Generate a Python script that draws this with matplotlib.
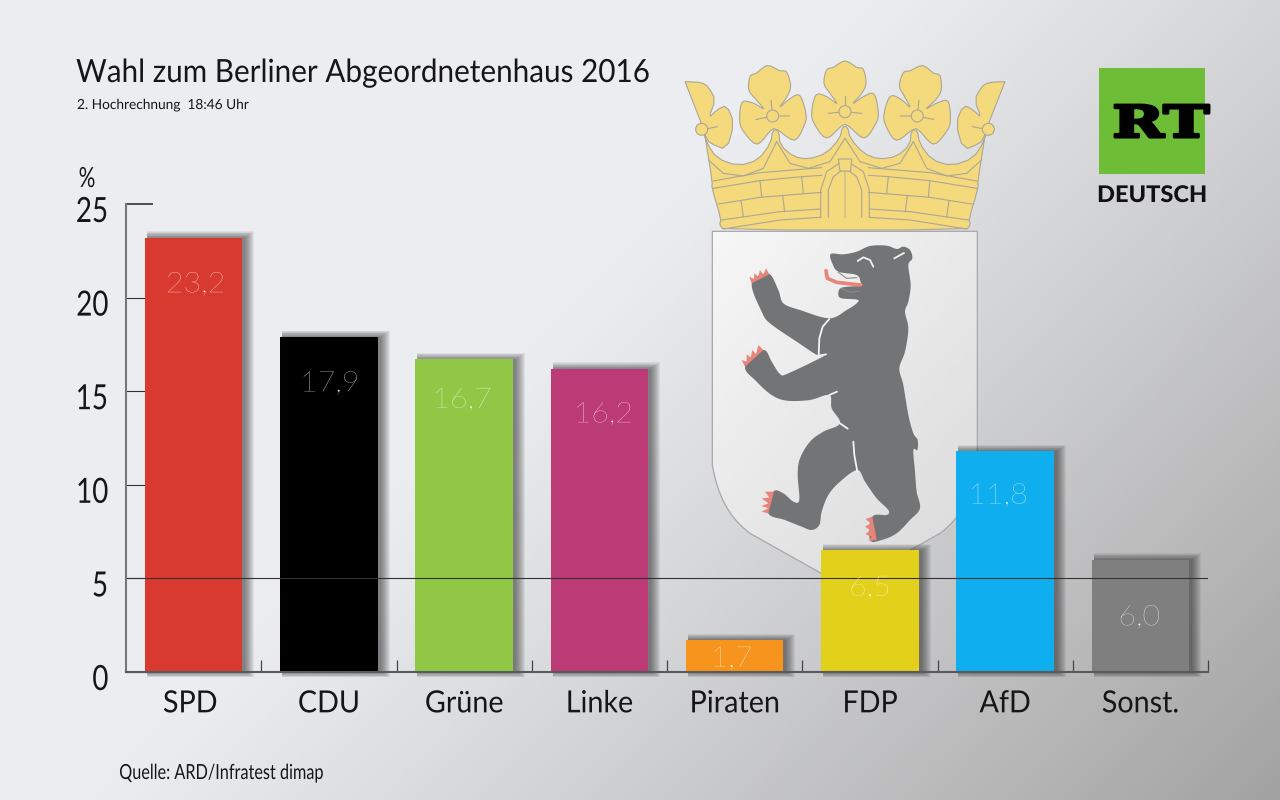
import numpy as np
import matplotlib
matplotlib.use("Agg")
import matplotlib.pyplot as plt
from matplotlib.patches import Rectangle, Polygon, Circle, PathPatch
from matplotlib.path import Path
from matplotlib.patheffects import AbstractPathEffect
from matplotlib.transforms import Affine2D, ScaledTranslation

# Daten
parteien = ["SPD", "CDU", "Grüne", "Linke", "Piraten", "FDP", "AfD", "Sonst."]
prozent = [23.2, 17.9, 16.7, 16.2, 1.7, 6.5, 11.8, 6.0]
prozent_text = ["23,2", "17,9", "16,7", "16,2", "1,7", "6,5", "11,8", "6,0"]
farben = ["#D93A2F", "#000000", "#90C845", "#BC3A75", "#F7941D", "#E2D01B", "#0FAEEF", "#7F7F7F"]
label_abstand = [47, 47, 41, 46, 19, 38, 45, 58]
label_seite = [2, 1, -2, 4, -3, 0, -7, -1]
y_ticks = [0, 5, 10, 15, 20, 25]

plt.rcParams["font.family"] = ["Lato", "DejaVu Sans"]
TEXT = "#161616"


class Stauchen(AbstractPathEffect):
    # Schrift horizontal stauchen, Original ist eine schmale Proxima Nova
    def __init__(self, sx, anker=0.5, fett=0):
        super().__init__()
        self.sx = sx
        self.anker = anker
        self.fett = fett

    def draw_path(self, renderer, gc, tpath, affine, rgbFace=None):
        ext = tpath.get_extents()
        cx = ext.x0 + self.anker * ext.width
        extra = Affine2D().translate(-cx, 0).scale(self.sx, 1).translate(cx, 0)
        if self.fett:
            gc0 = renderer.new_gc()
            gc0.copy_properties(gc)
            gc0.set_linewidth(self.fett)
            gc0.set_foreground(rgbFace)
            renderer.draw_path(gc0, tpath, extra + affine, rgbFace)
            gc0.restore()
        else:
            renderer.draw_path(gc, tpath, extra + affine, rgbFace)


def glatt(punkte, n=2):
    p = np.array(punkte, dtype=float)
    for _ in range(n):
        q = np.roll(p, -1, axis=0)
        p = np.column_stack([0.75 * p + 0.25 * q, 0.25 * p + 0.75 * q]).reshape(-1, 2)
    return p


def kurve(punkte, n=6):
    # Catmull-Rom, geht durch alle Punkte und schrumpft nicht wie glatt()
    p = np.array(punkte, dtype=float)
    aus = []
    for i in range(len(p)):
        p0, p1, p2, p3 = p[i - 1], p[i], p[(i + 1) % len(p)], p[(i + 2) % len(p)]
        for u in np.linspace(0, 1, n, endpoint=False):
            aus.append(0.5 * (2 * p1 + (p2 - p0) * u + (2 * p0 - 5 * p1 + 4 * p2 - p3) * u ** 2
                              + (3 * p1 - p0 - 3 * p2 + p3) * u ** 3))
    return np.array(aus)


fig = plt.figure(figsize=(12.8, 8), dpi=100)

# Hintergrund + Wappen
deko = fig.add_axes([0, 0, 1, 1])
deko.set_xlim(0, 1280)
deko.set_ylim(800, 0)
deko.axis("off")

yy, xx = np.mgrid[0:800, 0:1280]
t = np.clip((xx / 1280 * 0.62 + yy / 800 * 0.38 - 0.42) / 0.58, 0, 1) ** 1.1
start = np.array([236, 237, 240]) / 255
ende = np.array([162, 162, 162]) / 255
bg = start[None, None, :] * (1 - t[..., None]) + ende[None, None, :] * t[..., None]
deko.imshow(bg, extent=(0, 1280, 800, 0), aspect="auto", zorder=0)
deko.set_xlim(0, 1280)
deko.set_ylim(800, 0)


# Krone, Koordinaten aus der 3x Vergroesserung
def kx(p):
    p = np.asarray(p, dtype=float)
    return np.column_stack([p[:, 0] / 3 + 680, p[:, 1] / 3 + 50])


def spiegel(p):
    p = np.asarray(p, dtype=float)
    return np.column_stack([990 - p[:, 0], p[:, 1]])


GELB = "#F5D97D"
KANTE = "#ABA795"

koerper = [(72, 240), (78, 275), (110, 325), (175, 348), (235, 330), (272, 280), (278, 240), (296, 240),
           (300, 285), (340, 320), (385, 328), (440, 310), (480, 265), (487, 230), (503, 230), (510, 265),
           (550, 310), (595, 328), (650, 320), (690, 285), (694, 240), (712, 240), (718, 280), (755, 330),
           (815, 348), (880, 325), (912, 275), (918, 240), (893, 395), (895, 412), (866, 510), (872, 522),
           (860, 540), (130, 540), (118, 522), (124, 510), (95, 412), (97, 395)]
deko.add_patch(Polygon(kx(glatt(koerper, 1)), closed=True, fc=GELB, ec=KANTE, lw=0.8, zorder=2))

blume = np.array([(485, 228), (440, 264), (405, 225), (395, 190), (408, 135), (440, 140), (470, 160), (450, 130),
                  (432, 100), (440, 60), (460, 52), (495, 33), (530, 52), (550, 58), (558, 100), (545, 130),
                  (520, 160), (550, 140), (582, 132), (595, 190), (585, 225), (552, 264), (505, 228)], dtype=float)
blume_mitte = np.array([495, 185.0])
for mitte, winkel in [((495, 185), 0), ((278, 198), -6), ((712, 198), 6)]:
    w = np.deg2rad(winkel)
    rot = np.array([[np.cos(w), -np.sin(w)], [np.sin(w), np.cos(w)]])
    b = (blume - blume_mitte) @ rot.T + np.array(mitte)
    deko.add_patch(Polygon(kx(kurve(b, 4)), closed=True, fc=GELB, ec=KANTE, lw=0.8, zorder=3))
    for a, e in [((-50, 5), (-18, 2)), ((18, 2), (50, 5)), ((0, -47), (0, -18))]:
        s = (np.array([a, e], dtype=float)) @ rot.T + np.array(mitte)
        deko.plot(*kx(s).T, color=KANTE, lw=0.8, zorder=4)
    deko.add_patch(Circle(kx([mitte])[0], 6, fc=GELB, ec=KANTE, lw=0.8, zorder=4))

seite = [(15, 95), (15, 95), (65, 97), (85, 110), (107, 150), (85, 205), (110, 180), (140, 165), (163, 220),
         (140, 300), (90, 280), (78, 262), (72, 240)]
for s in [np.array(seite, dtype=float), spiegel(seite)]:
    deko.add_patch(Polygon(kx(glatt(s, 1)), closed=True, fc=GELB, ec=KANTE, lw=0.8, zorder=3))
for mitte, seg in [((65, 238), [(83, 236), (112, 230)]), ((925, 238), [(907, 236), (878, 230)])]:
    deko.plot(*kx(seg).T, color=KANTE, lw=0.8, zorder=4)
    deko.add_patch(Circle(kx([mitte])[0], 6, fc=GELB, ec=KANTE, lw=0.8, zorder=4))

kronen_linien = [
    [(85, 330), (130, 370), (190, 378), (250, 355), (290, 275)],
    [(290, 275), (330, 340), (385, 355), (450, 335), (495, 265)],
    [(100, 393), (240, 368), (425, 353)],
    [(100, 415), (240, 392), (365, 380), (425, 376)],
    [(115, 462), (240, 442), (425, 427)],
    [(125, 510), (300, 485), (422, 477)],
    [(130, 537), (300, 510), (422, 502)],
    [(240, 392), (245, 440)],
    [(365, 380), (370, 430)],
    [(183, 452), (190, 500)],
    [(308, 437), (314, 485)],
    [(422, 502), (422, 420), (440, 365), (478, 340)],
    [(445, 502), (445, 420), (460, 380), (483, 363)],
]
for linie in kronen_linien:
    for l in [linie, spiegel(linie)]:
        deko.plot(*kx(l).T, color=KANTE, lw=0.8, zorder=4)
deko.plot(*kx([(495, 362), (495, 502)]).T, color="#D2C48C", lw=1.2, zorder=4)
deko.add_patch(Polygon(kx([(475, 327), (515, 327), (512, 363), (480, 363)]), closed=True, fc=GELB, ec=KANTE,
                       lw=0.8, zorder=4))


# Schild + Baer
def bx(p):
    p = np.asarray(p, dtype=float)
    return np.column_stack([p[:, 0] / 3 + 700, p[:, 1] / 3 + 225])


schild_pfad = Path(bx([(37, 19), (832, 19), (832, 720), (810, 860), (720, 925), (435, 1085), (150, 925),
                       (60, 860), (37, 720), (37, 19)]),
                   [Path.MOVETO, Path.LINETO, Path.LINETO, Path.CURVE3, Path.CURVE3, Path.LINETO, Path.LINETO,
                    Path.CURVE3, Path.CURVE3, Path.CLOSEPOLY])
yy2, xx2 = np.mgrid[0:100, 0:100]
sch = 0.965 - 0.115 * (xx2 / 100 * 0.45 + yy2 / 100 * 0.55)
bild = deko.imshow(sch, extent=(712, 978, 590, 231), cmap="gray", vmin=0, vmax=1, aspect="auto", zorder=2)
bild.set_clip_path(PathPatch(schild_pfad, transform=deko.transData))
deko.set_xlim(0, 1280)
deko.set_ylim(800, 0)
deko.add_patch(PathPatch(schild_pfad, fc="none", ec="#A8A8A8", lw=0.9, zorder=3))

baer = [(392, 87), (430, 88), (470, 80), (510, 63), (560, 62), (590, 72), (610, 65), (630, 75), (637, 100),
        (625, 120), (632, 180), (625, 230), (615, 260), (625, 310), (615, 380), (598, 430), (610, 480),
        (625, 570), (640, 625), (653, 645), (652, 675), (640, 675), (645, 740), (650, 800), (660, 850),
        (630, 885), (590, 925), (545, 945), (510, 945), (517, 875), (560, 870), (565, 855), (530, 820),
        (495, 770), (472, 735), (420, 770), (385, 810), (365, 860), (358, 900), (335, 915), (305, 905),
        (255, 885), (205, 865), (220, 800), (250, 805), (280, 830), (298, 825), (293, 750), (300, 700),
        (330, 650), (370, 620), (420, 595), (395, 550), (388, 510), (330, 525), (260, 527), (215, 510),
        (170, 470), (135, 425), (190, 375), (215, 410), (240, 447), (265, 445), (378, 390), (355, 392),
        (290, 350), (210, 295), (185, 260), (155, 175), (205, 145), (235, 195), (250, 235), (300, 255),
        (388, 280), (440, 255), (470, 235), (472, 224), (425, 220), (415, 208), (425, 188), (482, 182),
        (482, 172), (470, 150), (415, 140), (397, 115)]
GRAU = "#737475"
deko.add_patch(Polygon(bx(kurve(baer)), closed=True, fc=GRAU, ec="none", zorder=4))

krallen = [
    [(155, 175), (148, 155), (162, 162), (163, 145), (175, 155), (180, 135), (190, 150), (198, 130), (208, 148)],
    [(135, 425), (125, 405), (140, 410), (140, 388), (152, 398), (157, 375), (168, 388), (175, 360), (190, 375)],
    [(205, 865), (185, 860), (205, 850), (185, 843), (205, 835), (185, 820), (208, 818), (195, 800), (222, 800)],
    [(517, 875), (497, 882), (512, 895), (495, 905), (510, 915), (497, 928), (515, 935), (505, 948), (530, 945)],
]
for k in krallen:
    deko.add_patch(Polygon(bx(k), closed=True, fc="#E8847A", ec="none", zorder=4))

schlitze = [
    [(388, 282), (368, 305), (358, 340), (356, 392)],
    [(356, 392), (378, 388)],
    [(388, 510), (411, 500)],
    [(420, 595), (443, 611)],
    [(460, 650), (463, 690), (472, 740)],
    [(473, 108), (490, 97), (510, 105), (520, 125)],
    [(583, 100), (612, 84)],
]
for s in schlitze:
    deko.plot(*bx(s).T, color="#F2F3F4", lw=1.3, solid_capstyle="round", zorder=5)
deko.plot(*bx([(378, 137), (382, 160), (410, 172), (482, 180)]).T, color="#E8847A", lw=2.6,
          solid_capstyle="round", zorder=5)
deko.plot(*bx([(415, 142), (440, 160), (470, 158)]).T, color="#8A8A8A", lw=0.8, zorder=5)
deko.plot(*bx([(425, 190), (450, 202), (480, 198)]).T, color="#8A8A8A", lw=0.8, zorder=5)

# RT Logo
deko.add_patch(Rectangle((1098.5, 68), 106.5, 106, fc="#6DBE36", ec="none", zorder=2))
rt = deko.text(1113, 137, "RT", family=["DejaVu Serif", "DejaVu Sans"], weight="bold", fontsize=31.5, color="black",
               ha="left", va="baseline", zorder=3)
rt.set_path_effects([Stauchen(1.43, 0, fett=2.2)])
de = deko.text(1152, 202, "DEUTSCH", weight="black", fontsize=16.5, color="#111111", ha="center", va="baseline",
               zorder=3)
de.set_path_effects([Stauchen(1.03)])

# Texte
titel = deko.text(76, 82, "Wahl zum Berliner Abgeordnetenhaus 2016", fontsize=23, color=TEXT, ha="left",
                  va="baseline")
titel.set_path_effects([Stauchen(0.93, 0)])
unter = deko.text(77, 109, "2. Hochrechnung  18:46 Uhr", fontsize=10, color=TEXT, ha="left", va="baseline")
unter.set_path_effects([Stauchen(0.985, 0)])
prozent_z = deko.text(87, 187, "%", fontsize=20, color=TEXT, ha="center", va="baseline")
prozent_z.set_path_effects([Stauchen(0.75)])
quelle = deko.text(119, 779, "Quelle: ARD/Infratest dimap", fontsize=15, color=TEXT, ha="left", va="baseline")
quelle.set_path_effects([Stauchen(0.78, 0)])

# Balken
ax = fig.add_axes([126 / 1280, 1 - 672 / 800, (1208 - 126) / 1280, (672 - 204) / 800])
ax.patch.set_alpha(0)
x = np.arange(len(parteien))
breite = 0.72
ax.set_xlim(-0.5, len(parteien) - 0.5)
ax.set_ylim(0, 25)

# px -> Daten
dx = 8 / (1208 - 126)
dy = 25 / (672 - 204)
for xi, wert in zip(x, prozent):
    links = xi - breite / 2 + 2 * dx
    for g in np.arange(9, -1, -1.0):
        unten = -0.6 * g * dy
        ax.add_patch(Rectangle((links, unten), breite + (1 + g) * dx, wert + 0.7 * g * dy - unten,
                               fc="#202020", ec="none", alpha=0.065, zorder=1.5, clip_on=False))

ax.bar(x, prozent, width=breite, color=farben, zorder=2)
ax.axhline(5, color="#333333", lw=0.8, zorder=3)

ax.spines[["top", "right"]].set_visible(False)
ax.spines["left"].set_color("#777777")
ax.spines["bottom"].set_color("#5A5A5A")
ax.spines[["left", "bottom"]].set_linewidth(1.5)
ax.spines[["left", "bottom"]].set_zorder(3)

ax.set_yticks(y_ticks)
ax.tick_params(axis="y", direction="in", length=19.5, width=0.8, color="#333333", labelsize=25, labelcolor=TEXT,
               pad=12.5)
ax.yaxis.get_major_ticks()[-1].tick1line.set_color("#777777")
ax.yaxis.get_major_ticks()[-1].tick1line.set_markeredgewidth(1.2)
versatz = ScaledTranslation(0, -5 / 100, fig.dpi_scale_trans)
for lab in ax.get_yticklabels():
    lab.set_transform(lab.get_transform() + versatz)
    lab.set_path_effects([Stauchen(0.8, 1)])

ax.set_xticks(x)
ax.set_xticklabels(parteien)
ax.set_xticks(list(x + 0.5), minor=True)
ax.tick_params(axis="x", which="major", length=0, labelsize=22, labelcolor=TEXT, pad=12.5)
ax.tick_params(axis="x", which="minor", direction="in", length=9, width=0.9, color="#444444")
for lab in ax.get_xticklabels():
    lab.set_path_effects([Stauchen(0.94)])
erstes = ax.get_xticklabels()[0]
erstes.set_transform(erstes.get_transform() + ScaledTranslation(-3.5 / 100, 0, fig.dpi_scale_trans))

for xi, wert, txt, ab, s in zip(x, prozent, prozent_text, label_abstand, label_seite):
    wertlabel = ax.annotate(txt, (xi, wert), xytext=(s * 0.72, -ab * 0.72), textcoords="offset points", ha="center",
                            va="center", color="white", fontsize=20.5, weight="light", zorder=4)
    wertlabel.set_path_effects([Stauchen(1.07)])

fig.savefig("out.png", dpi=100)
